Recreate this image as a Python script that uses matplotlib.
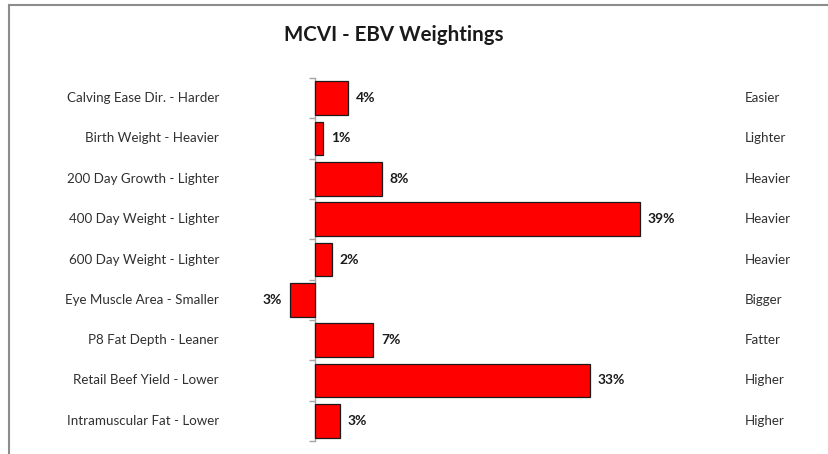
import matplotlib
matplotlib.use("Agg")
import matplotlib.pyplot as plt
from matplotlib.lines import Line2D
from matplotlib.transforms import blended_transform_factory

categories = [
    "Calving Ease Dir. - Harder",
    "Birth Weight - Heavier",
    "200 Day Growth - Lighter",
    "400 Day Weight - Lighter",
    "600 Day Weight - Lighter",
    "Eye Muscle Area - Smaller",
    "P8 Fat Depth - Leaner",
    "Retail Beef Yield - Lower",
    "Intramuscular Fat - Lower",
]
right_labels = ["Easier", "Lighter", "Heavier", "Heavier", "Heavier",
                "Bigger", "Fatter", "Higher", "Higher"]
values = [4, 1, 8, 39, 2, -3, 7, 33, 3]
value_labels = ["4%", "1%", "8%", "39%", "2%", "3%", "7%", "33%", "3%"]

plt.rcParams['font.family'] = ['Lato', 'DejaVu Sans']

W, H = 829, 454
fig = plt.figure(figsize=(W / 100, H / 100), dpi=100)

# axes placement in pixels
x0_px = 315.0
ppu = 325.0 / 39.0
xmin, xmax = -4.0, 45.0
left_px = x0_px + xmin * ppu
right_px = x0_px + xmax * ppu
top_px, bot_px = 78.0, 441.0
ax = fig.add_axes([left_px / W, 1 - bot_px / H, (right_px - left_px) / W, (bot_px - top_px) / H])
ax.set_xlim(xmin, xmax)
n = len(categories)
ax.set_ylim(n - 0.5, -0.5)

ypos = list(range(n))
ax.barh(ypos, values, height=0.84, color="#FF0000", edgecolor="#1a1a1a", linewidth=0.9, zorder=3)

for s in ["top", "right", "bottom"]:
    ax.spines[s].set_visible(False)
ax.spines["left"].set_position(("data", 0))
ax.spines["left"].set_color("#a6a6a6")
ax.spines["left"].set_linewidth(1.0)
ax.set_xticks([])
ax.set_yticks([i - 0.5 for i in range(n + 1)])
ax.set_yticklabels([])
ax.tick_params(axis="y", direction="out", length=4, color="#a6a6a6", width=1.0)
ax.patch.set_alpha(0)

trans_l = blended_transform_factory(fig.transFigure, ax.transData)
for i, (c, r) in enumerate(zip(categories, right_labels)):
    ax.text(219 / W, i, c, transform=trans_l, ha="right", va="center", fontsize=9.6, color="#303030")
    ax.text(745 / W, i, r, transform=trans_l, ha="left", va="center", fontsize=9.6, color="#303030")

for i, (v, lab) in enumerate(zip(values, value_labels)):
    off = 8 / ppu
    if v >= 0:
        ax.text(v + off, i, lab, ha="left", va="center", fontsize=10, fontweight="bold", color="#1a1a1a")
    else:
        ax.text(v - off, i, lab, ha="right", va="center", fontsize=10, fontweight="bold", color="#1a1a1a")

fig.text(394 / W, 1 - 35 / H, "MCVI - EBV Weightings", ha="center", va="center",
         fontsize=14.8, fontweight="bold", color="#1a1a1a")

# outer border (top and left)
fig.add_artist(Line2D([9 / W, 1], [1 - 4.5 / H, 1 - 4.5 / H], transform=fig.transFigure, color="#8c8c8c", lw=1.5))
fig.add_artist(Line2D([9 / W, 9 / W], [0, 1 - 4.5 / H], transform=fig.transFigure, color="#8c8c8c", lw=1.5))

fig.savefig("out.png", dpi=100, facecolor="white")
